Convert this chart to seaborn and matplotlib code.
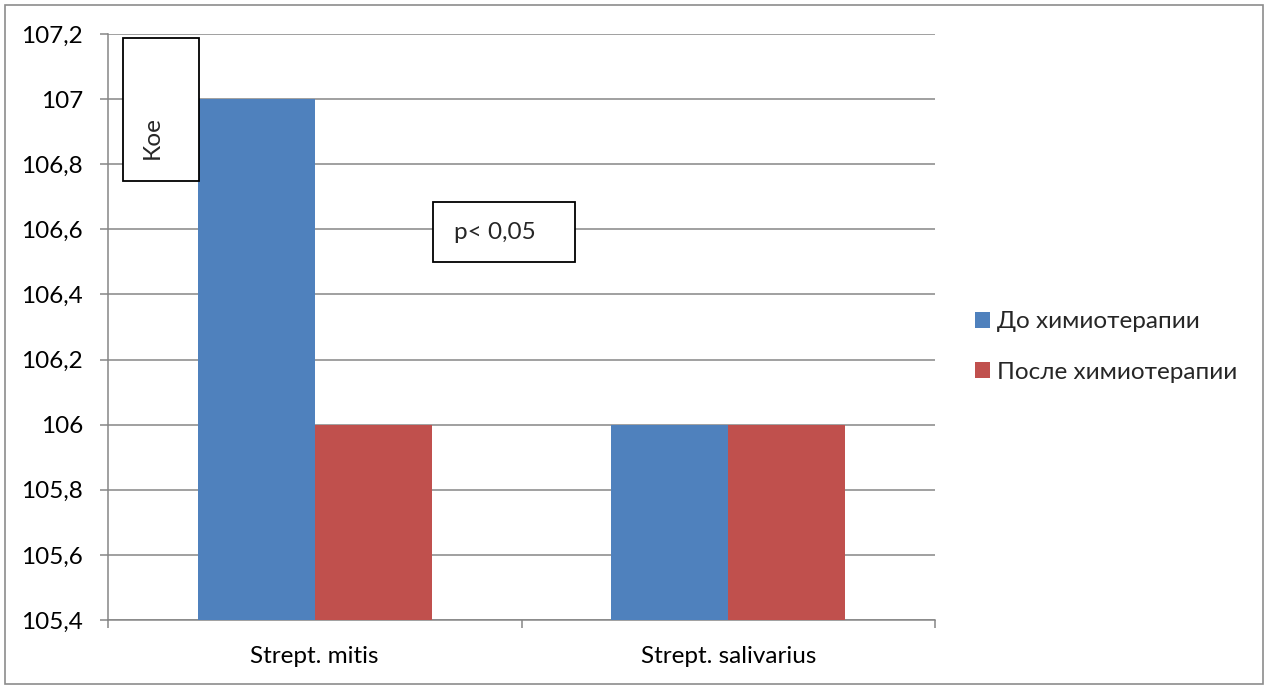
import matplotlib
matplotlib.use("Agg")
import matplotlib.pyplot as plt
from matplotlib.patches import Rectangle
import seaborn as sns
import pandas as pd

categories = ["Strept. mitis", "Strept. salivarius"]
series_names = ["До химиотерапии", "После химиотерапии"]
before_values = [107.0, 106.0]
after_values = [106.0, 106.0]
y_ticks = [105.4, 105.6, 105.8, 106.0, 106.2, 106.4, 106.6, 106.8, 107.0, 107.2]
y_tick_labels = ["105,4", "105,6", "105,8", "106", "106,2", "106,4", "106,6", "106,8", "107", "107,2"]

df = pd.DataFrame({
    "cat": categories * 2,
    "series": [series_names[0]] * 2 + [series_names[1]] * 2,
    "value": before_values + after_values,
})

sns.set_theme(style="white")
plt.rcParams["font.family"] = ["Lato", "DejaVu Sans"]
FS = 17.5

W, H = 1270, 687
fig = plt.figure(figsize=(W / 100, H / 100), dpi=100)
L, R, T, B = 108, 935, 34, 620
ax = fig.add_axes([L / W, (H - B) / H, (R - L) / W, (B - T) / H])

grid_c = "#868686"
sns.barplot(data=df, x="cat", y="value", hue="series", order=categories,
            hue_order=series_names, palette=["#4F81BD", "#C0504D"],
            width=0.566, gap=0, saturation=1, ax=ax, zorder=3, linewidth=0,
            errorbar=None)

ax.set_xlim(-0.5, 1.5)
ax.set_ylim(105.4, 107.2)
ax.set_yticks(y_ticks)
ax.set_yticklabels(y_tick_labels, fontsize=FS, color="#000000")
ax.yaxis.grid(True, color=grid_c, linewidth=1.1, zorder=0)
ax.set_axisbelow(True)
ax.tick_params(axis="y", left=True, length=6, width=1.1, color=grid_c, pad=12)

ax.set_xticks([-0.5, 0.5, 1.5])
ax.set_xticklabels(["", "", ""])
ax.set_xticks([0, 1], minor=True)
ax.set_xticklabels(categories, minor=True, fontsize=FS, color="#000000")
ax.tick_params(axis="x", which="major", bottom=True, length=6, width=1.1, color=grid_c)
ax.tick_params(axis="x", which="minor", bottom=False, length=0, pad=19)
ax.set_xlabel("")
ax.set_ylabel("")

for s in ["top", "right"]:
    ax.spines[s].set_visible(False)
for s in ["left", "bottom"]:
    ax.spines[s].set_color(grid_c)
    ax.spines[s].set_linewidth(1.1)

# annotation boxes (axes fraction)
aw, ah = R - L, B - T
def frac(x, y):
    return (x - L) / aw, (B - y) / ah

x0, y1 = frac(123, 38)
x1, y0 = frac(199, 181)
ax.add_patch(Rectangle((x0, y0), x1 - x0, y1 - y0, transform=ax.transAxes,
                       facecolor="white", edgecolor="black", linewidth=1.3,
                       zorder=5, clip_on=False))
tx, ty = frac(152, 138)
ax.text(tx, ty, "Кое", transform=ax.transAxes, rotation=90, ha="center",
        va="center", fontsize=FS, zorder=6)

x0, y1 = frac(433, 202)
x1, y0 = frac(575, 262)
ax.add_patch(Rectangle((x0, y0), x1 - x0, y1 - y0, transform=ax.transAxes,
                       facecolor="white", edgecolor="black", linewidth=1.3,
                       zorder=5, clip_on=False))
tx, ty = frac(454, 233)
ax.text(tx, ty, "p< 0,05", transform=ax.transAxes, ha="left",
        va="center", fontsize=FS, zorder=6)

# legend
handles, labels = ax.get_legend_handles_labels()
ax.legend(handles, labels, loc="center left",
          bbox_to_anchor=((975 - L) / aw, (B - 347) / ah),
          frameon=False, fontsize=FS, handlelength=0.6, handleheight=0.6,
          handletextpad=0.3, labelspacing=1.2, borderaxespad=0,
          borderpad=0)

# outer border
fig.patches.append(Rectangle((5 / W, (H - 684) / H), 1258 / W, 679 / H,
                             transform=fig.transFigure, fill=False,
                             edgecolor="#8c8c8c", linewidth=1.2))

fig.savefig("out.png", dpi=100)
